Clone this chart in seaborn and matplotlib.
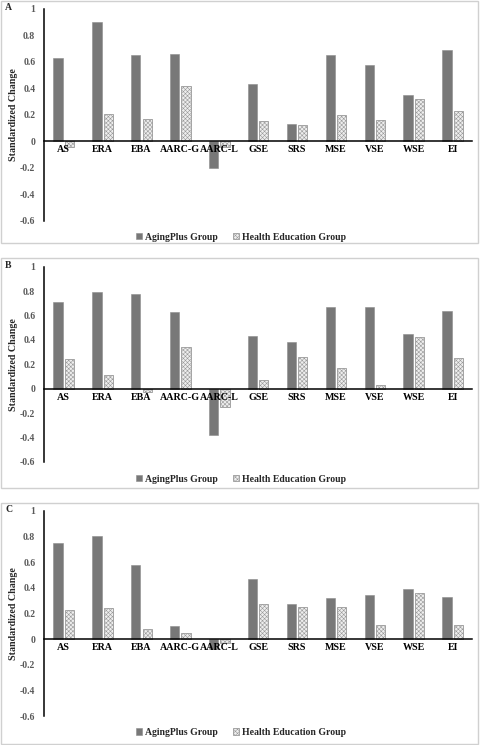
import matplotlib
matplotlib.use("Agg")
import matplotlib.pyplot as plt
import pandas as pd
import seaborn as sns
from matplotlib.patches import Patch, Rectangle

sns.set_style("white")
plt.rcParams["font.family"] = ["Liberation Serif", "DejaVu Serif"]
plt.rcParams["font.weight"] = "bold"
plt.rcParams["hatch.linewidth"] = 0.4
plt.rcParams["hatch.color"] = "#8a8a8a"

categories = ["AS", "ERA", "EBA", "AARC-G", "AARC-L", "GSE", "SRS", "MSE", "VSE", "WSE", "EI"]
groups = ["AgingPlus Group", "Health Education Group"]

# Panel A
aging_a = [0.63, 0.90, 0.65, 0.66, -0.20, 0.43, 0.13, 0.65, 0.58, 0.35, 0.69]
health_a = [-0.04, 0.21, 0.17, 0.42, -0.04, 0.15, 0.12, 0.20, 0.16, 0.32, 0.23]
# Panel B
aging_b = [0.71, 0.79, 0.78, 0.63, -0.38, 0.43, 0.38, 0.67, 0.67, 0.45, 0.64]
health_b = [0.24, 0.11, -0.03, 0.34, -0.15, 0.07, 0.26, 0.17, 0.03, 0.42, 0.25]
# Panel C
aging_c = [0.75, 0.80, 0.58, 0.10, -0.08, 0.47, 0.27, 0.32, 0.34, 0.39, 0.33]
health_c = [0.23, 0.24, 0.08, 0.05, -0.03, 0.27, 0.25, 0.25, 0.11, 0.36, 0.11]

yticks = [1, 0.8, 0.6, 0.4, 0.2, 0, -0.2, -0.4, -0.6]
ytick_labels = ["1", "0.8", "0.6", "0.4", "0.2", "0", "-0.2", "-0.4", "-0.6"]

DARK = "#787878"
LIGHT = "#eeeeee"
HATCH = "xxxxxxxx"
W, H = 480, 745


def draw_panel(fig, letter, aging, health, y_top, y_bot, box, legend_y):
    ax = fig.add_axes([44.3 / W, 1 - y_bot / H, (472 - 44.3) / W, (y_bot - y_top) / H])
    df = pd.DataFrame({
        "measure": categories * 2,
        "group": [groups[0]] * len(categories) + [groups[1]] * len(categories),
        "change": aging + health,
    })
    sns.barplot(data=df, x="measure", y="change", hue="group", order=categories,
                hue_order=groups, palette=[DARK, LIGHT], saturation=1,
                width=0.58, gap=0.18, errorbar=None, legend=False, ax=ax)
    for bar in ax.containers[1]:
        bar.set_hatch(HATCH)
        bar.set_edgecolor("#9a9a9a")
        bar.set_linewidth(0.6)
        bar.set_zorder(1)
    for bar in ax.containers[0]:
        bar.set_edgecolor("#8c8c8c")
        bar.set_linewidth(0.4)
        bar.set_zorder(1)

    # spine position first: it resets the tick objects
    for s in ["top", "right"]:
        ax.spines[s].set_visible(False)
    ax.spines["bottom"].set_position(("data", 0))
    ax.spines["bottom"].set_color("black")
    ax.spines["bottom"].set_linewidth(1.1)
    ax.spines["left"].set_color("black")
    ax.spines["left"].set_linewidth(1.1)
    ax.set_facecolor("none")

    ax.set_xlim(-0.5, 10.5)
    ax.set_ylim(-0.6, 1)
    ax.set_yticks(yticks)
    ax.set_yticklabels(ytick_labels, color="#595959", fontsize=7, fontweight="bold")
    ax.set_xticks(range(len(categories)))
    ax.set_xticklabels(categories, fontsize=7.2, fontweight="bold", color="black")
    ax.tick_params(axis="both", length=0)
    ax.tick_params(axis="y", pad=6.5)
    ax.tick_params(axis="x", pad=3)
    ax.xaxis.set_zorder(5)
    ax.set_xlabel("")
    ax.set_ylabel("Standardized Change", fontsize=7.2, fontweight="bold", va="center")
    ax.yaxis.set_label_coords((14 - 44.3) / (472 - 44.3), 0.5)

    fig.add_artist(Rectangle((1 / W, 1 - box[1] / H), 477 / W, (box[1] - box[0]) / H,
                             transform=fig.transFigure, fill=False,
                             edgecolor="#d0d0d0", linewidth=1))
    fig.text(5 / W, 1 - (box[0] + 7) / H, letter, fontsize=7, fontweight="bold",
             ha="left", va="center")

    handles = [Patch(facecolor=DARK, edgecolor="#8c8c8c", linewidth=0.4),
               Patch(facecolor=LIGHT, edgecolor="#9a9a9a", hatch=HATCH, linewidth=0.6)]
    fig.legend(handles, groups, loc="center", bbox_to_anchor=(241 / W, 1 - legend_y / H),
               ncol=2, frameon=False, fontsize=7, handlelength=0.65, handleheight=0.65,
               handletextpad=0.3, columnspacing=1.5, borderpad=0)


fig = plt.figure(figsize=(W / 100, H / 100), dpi=100)
draw_panel(fig, "A", aging_a, health_a, 9, 220.7, (1, 243), 237)
draw_panel(fig, "B", aging_b, health_b, 266.7, 462, (258, 488), 479)
draw_panel(fig, "C", aging_c, health_c, 510.7, 716, (503, 744), 732.5)
fig.savefig("out.png", dpi=100)
